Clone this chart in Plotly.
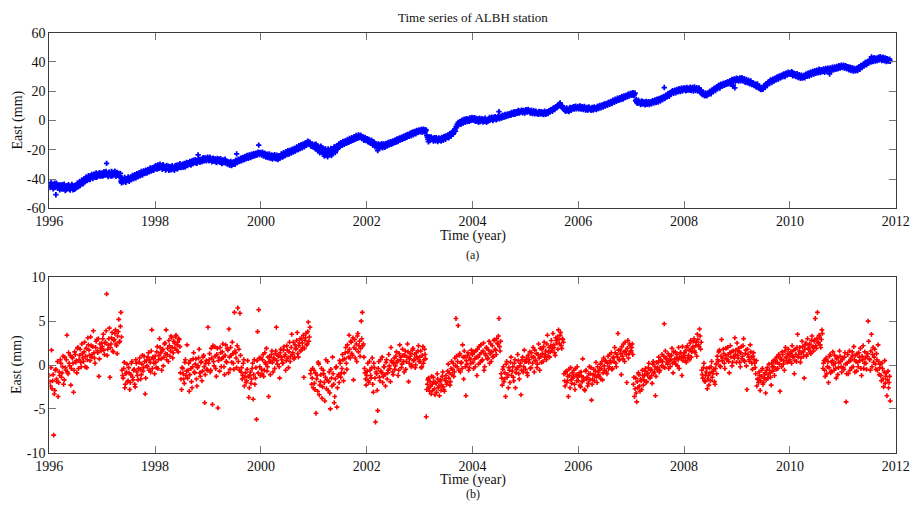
import plotly.graph_objects as go

# ALBH station, east component, 48 samples per year (1996.0 .. 2011.9)
start_year = 1996
samples_per_year = 48

# raw east position (mm), one row per year, whole-step samples
east_raw = [
    [-43.5,-45.2,-42.8,-44.6,-46.0,-43.1,-50.7,-44.9,-45.8,-44.2,-46.3,-45.0,-43.9,-46.8,-45.5,-47.2,-44.6,-46.1,-45.7,-47.5,-46.4,-44.8,-45.9,-47.0,-44.3,-45.6,-43.8,-42.9,-44.4,-42.1,-41.3,-42.8,-40.6,-39.4,-41.0,-39.8,-38.7,-40.1,-37.9,-39.2,-38.3,-36.8,-37.6,-38.9,-36.5,-37.8,-36.2,-37.4],
    [-36.0,-37.5,-35.4,-36.9,-29.3,-37.2,-35.8,-36.6,-38.0,-36.3,-35.5,-37.1,-36.7,-35.9,-37.4,-36.2,-37.8,-41.5,-40.2,-42.0,-40.8,-41.3,-39.7,-40.6,-39.5,-40.1,-38.6,-39.3,-37.9,-38.8,-37.2,-38.1,-36.6,-37.5,-35.8,-36.9,-35.4,-36.2,-34.9,-35.7,-34.3,-35.2,-33.8,-34.6,-33.1,-34.0,-32.7,-33.5],
    [-32.4,-31.2,-33.0,-31.8,-30.6,-32.1,-31.4,-30.2,-32.5,-31.7,-33.2,-32.0,-31.3,-33.5,-32.6,-31.9,-33.1,-32.2,-31.0,-32.8,-31.5,-30.4,-32.0,-30.9,-31.3,-29.8,-30.7,-31.6,-29.5,-30.3,-28.9,-29.9,-28.4,-29.6,-28.0,-27.2,-28.7,-27.5,-29.0,-23.5,-26.8,-28.2,-27.1,-26.3,-27.6,-25.9,-26.9,-26.2],
    [-26.0,-27.3,-25.6,-26.8,-27.5,-26.1,-27.9,-26.6,-28.2,-27.0,-26.4,-28.5,-27.7,-28.9,-27.3,-28.4,-29.1,-27.8,-29.6,-28.7,-30.2,-29.4,-28.5,-29.9,-28.8,-27.6,-22.8,-28.1,-26.9,-27.4,-25.8,-26.7,-25.2,-26.3,-24.6,-25.5,-24.0,-25.1,-23.7,-24.8,-23.3,-24.2,-22.9,-23.8,-23.4,-22.4,-16.8,-22.0],
    [-22.1,-23.4,-22.8,-24.0,-23.2,-24.6,-23.7,-25.1,-24.3,-25.5,-24.8,-23.9,-25.6,-24.5,-26.0,-25.2,-24.4,-25.8,-24.1,-23.3,-24.6,-22.9,-23.8,-22.2,-21.5,-22.7,-21.0,-21.9,-20.4,-21.3,-19.7,-20.8,-19.2,-18.5,-19.6,-18.0,-17.2,-18.4,-16.8,-17.7,-15.9,-17.0,-15.4,-14.6,-15.8,-16.3,-17.5,-16.9],
    [-17.4,-18.6,-16.2,-19.3,-17.8,-20.5,-18.1,-21.2,-19.0,-22.6,-20.3,-23.5,-21.0,-19.4,-22.8,-20.6,-24.0,-19.8,-21.5,-18.3,-20.1,-17.2,-18.8,-16.0,-17.3,-15.5,-16.6,-14.9,-15.8,-14.3,-15.2,-13.6,-14.5,-12.9,-13.8,-12.4,-13.2,-11.8,-12.6,-11.3,-12.0,-10.5,-11.4,-10.9,-12.3,-11.7,-13.0,-12.4],
    [-13.4,-14.2,-12.9,-15.0,-14.1,-15.8,-15.2,-16.5,-15.7,-17.1,-20.6,-17.8,-16.6,-18.2,-17.3,-16.4,-17.6,-16.9,-15.8,-16.7,-15.2,-16.1,-14.7,-15.5,-14.1,-14.8,-13.3,-14.0,-12.6,-13.5,-12.0,-12.8,-11.4,-12.2,-10.8,-11.6,-10.2,-9.5,-10.6,-9.0,-9.8,-8.4,-9.3,-7.9,-8.7,-7.3,-8.2,-7.0],
    [-6.9,-7.6,-6.2,-7.3,-6.5,-7.8,-6.8,-11.4,-14.5,-12.3,-11.6,-13.0,-12.1,-13.4,-12.5,-11.8,-13.2,-12.7,-13.6,-12.4,-11.5,-12.8,-11.2,-12.0,-10.6,-11.3,-9.8,-10.4,-8.9,-9.5,-7.6,-8.3,-5.8,-4.2,-2.6,-1.4,-2.1,-0.6,-1.5,0.2,-0.9,0.6,-0.2,1.1,0.3,-0.5,1.4,0.7],
    [1.2,0.4,1.8,0.6,-0.3,1.0,0.2,-0.8,0.7,-0.4,0.9,-0.6,0.1,-0.9,0.5,1.3,0.3,1.6,0.8,2.0,1.1,1.7,0.9,2.4,6.0,1.8,2.9,2.2,3.3,2.6,3.7,3.0,4.1,3.5,4.6,3.9,5.0,4.4,5.6,4.8,5.3,6.1,5.5,6.4,5.9,6.7,6.2,5.8],
    [6.6,7.0,6.1,6.8,5.7,6.4,5.3,6.0,5.1,5.8,4.7,5.5,4.9,5.9,5.2,4.5,5.6,4.8,5.4,5.0,6.0,5.7,6.6,7.3,6.9,7.9,8.6,8.2,9.5,10.1,9.6,11.3,10.6,9.4,8.5,7.6,7.0,7.8,6.6,7.4,8.2,7.5,8.8,8.0,8.6,9.3,8.4,9.0],
    [9.1,8.4,9.6,8.7,8.1,9.0,8.3,7.6,8.5,7.9,8.8,7.4,8.2,7.7,8.6,7.9,8.3,9.0,8.7,9.6,9.2,10.1,9.7,10.6,10.3,11.2,10.9,11.8,11.5,12.4,12.1,13.0,13.5,12.8,14.1,13.6,14.7,14.2,15.3,14.8,15.8,15.2,16.4,16.0,16.9,17.4,16.7,17.8],
    [18.2,17.5,18.8,17.9,13.4,12.6,11.9,13.1,12.2,11.5,12.8,11.8,12.4,11.3,12.0,11.6,12.6,11.9,12.3,13.0,12.5,13.4,12.9,13.8,13.3,14.4,13.9,15.0,14.6,15.8,22.5,16.5,16.9,17.6,17.2,18.5,18.9,19.6,19.2,20.0,19.7,20.5,20.1,20.9,20.4,21.3,20.8,21.5],
    [21.0,21.8,20.6,21.5,22.1,21.2,20.7,21.9,21.4,22.3,21.0,21.7,20.9,21.5,20.6,19.5,18.6,17.8,18.2,17.3,18.0,17.6,18.7,19.4,19.0,20.1,20.7,21.5,21.1,22.3,22.8,23.4,22.9,24.0,24.4,23.8,25.0,24.6,25.6,25.2,26.1,25.7,26.6,27.3,23.5,27.6,22.3,28.0],
    [27.4,28.3,27.8,28.6,27.9,28.2,27.3,26.8,27.5,26.4,26.9,25.8,26.3,25.2,24.7,25.3,24.1,23.6,24.4,23.0,22.4,21.8,21.3,22.0,22.9,23.6,24.4,25.1,25.8,26.3,27.0,26.6,27.5,28.1,27.7,28.6,29.1,28.8,29.7,30.2,29.9,30.8,31.2,30.7,31.6,32.1,31.5,32.4],
    [32.5,31.8,32.9,31.3,30.7,31.6,30.2,30.9,29.7,30.4,29.3,30.0,29.6,30.5,30.9,31.5,31.0,32.1,31.7,32.6,32.2,33.1,32.7,33.6,33.2,34.0,33.5,34.3,33.1,34.6,34.1,33.7,34.8,34.2,35.0,34.5,31.8,35.4,34.6,35.7,35.2,36.0,35.5,36.3,35.9,36.8,36.3,37.1],
    [36.6,37.3,36.1,36.9,35.7,36.4,35.3,35.9,34.8,35.5,34.2,34.9,34.5,35.4,36.1,35.7,36.8,37.5,37.0,38.3,38.8,39.4,39.0,40.1,40.6,41.2,43.5,40.5,41.6,42.4,41.0,41.9,42.8,41.4,43.6,42.1,41.7,42.6,40.9,41.5,42.2,40.8,41.3,40.5],
]

# raw east position (mm), one row per year, half-step samples
east_raw_half = [
    [-45.8,-42.6,-44.9,-46.7,-43.0,-45.6,-42.9,-46.4,-44.1,-47.3,-44.0,-46.9,-45.1,-43.6,-47.8,-44.7,-46.6,-43.9,-47.1,-45.0,-43.7,-47.4,-44.5,-46.2,-45.9,-42.8,-45.1,-41.6,-43.4,-40.7,-43.2,-39.9,-41.8,-38.5,-40.9,-37.8,-40.3,-38.1,-36.9,-39.6,-36.7,-38.8,-35.9,-38.2,-37.0,-35.6,-38.1,-36.0],
    [-37.9,-35.2,-37.3,-34.8,-36.4,-38.3,-35.1,-37.6,-34.9,-37.8,-36.0,-34.7,-38.2,-35.5,-36.9,-38.4,-36.1,-42.6,-39.4,-41.7,-39.0,-42.3,-40.9,-38.6,-41.5,-39.2,-40.4,-37.6,-39.9,-37.0,-39.4,-36.4,-38.5,-35.9,-37.8,-34.9,-37.3,-34.5,-36.3,-33.9,-35.9,-33.4,-35.1,-32.5,-34.6,-32.2,-34.1,-31.8],
    [-30.9,-33.1,-30.4,-32.6,-29.8,-31.0,-33.3,-30.6,-31.5,-33.9,-30.8,-32.8,-34.1,-31.6,-33.7,-30.9,-32.4,-34.0,-31.3,-30.6,-33.0,-31.8,-29.6,-32.2,-30.2,-31.9,-29.3,-31.4,-28.7,-30.8,-29.6,-27.9,-30.4,-27.6,-29.4,-28.6,-26.8,-29.2,-27.7,-26.1,-28.5,-26.6,-28.0,-25.4,-27.3,-25.6,-27.6,-25.1],
    [-27.4,-25.1,-26.9,-28.3,-25.7,-27.6,-26.2,-28.7,-25.9,-28.0,-27.3,-26.1,-29.4,-27.0,-28.8,-26.5,-27.9,-29.8,-28.3,-30.4,-28.0,-30.8,-29.1,-28.3,-30.0,-27.1,-28.7,-26.4,-28.0,-25.9,-27.6,-25.4,-26.9,-24.8,-26.1,-23.9,-25.8,-23.5,-25.3,-23.0,-24.6,-22.7,-24.1,-22.3,-23.6,-21.7,-23.3,-21.9],
    [-23.5,-21.6,-24.3,-22.3,-25.0,-23.0,-25.4,-22.8,-25.9,-23.6,-26.3,-24.2,-23.4,-26.2,-23.7,-26.7,-24.0,-25.3,-22.8,-24.9,-22.0,-24.1,-21.4,-23.3,-20.7,-22.9,-20.3,-22.2,-19.6,-21.6,-18.9,-20.6,-18.1,-20.0,-17.3,-19.2,-16.6,-18.7,-16.0,-17.9,-15.2,-16.7,-14.1,-15.9,-14.9,-17.6,-16.0,-18.1],
    [-16.3,-19.4,-17.0,-20.6,-18.7,-22.1,-17.5,-21.8,-20.0,-24.3,-19.2,-22.3,-24.8,-20.7,-23.1,-19.1,-22.5,-20.4,-18.0,-21.9,-17.7,-19.6,-16.4,-17.8,-15.1,-16.9,-14.4,-16.2,-13.9,-15.6,-13.0,-14.9,-12.3,-14.1,-11.8,-13.5,-11.1,-12.9,-10.2,-12.2,-9.9,-11.6,-10.1,-12.0,-11.0,-13.6,-11.5,-13.7],
    [-12.4,-14.8,-13.6,-15.6,-13.5,-16.8,-14.6,-17.9,-16.3,-18.6,-16.0,-18.9,-17.2,-15.9,-18.7,-16.0,-18.3,-15.6,-17.4,-15.0,-16.8,-14.5,-16.3,-14.2,-15.4,-13.6,-14.9,-12.8,-14.4,-12.3,-13.4,-11.6,-12.9,-10.9,-12.1,-10.3,-11.4,-9.9,-10.8,-8.7,-10.4,-8.0,-9.7,-7.5,-9.1,-6.8,-8.0,-6.4],
    [-7.8,-6.1,-8.1,-5.9,-7.4,-6.3,-10.2,-12.9,-11.0,-13.7,-11.3,-12.6,-14.0,-11.7,-13.9,-12.2,-14.3,-11.9,-13.1,-14.1,-12.0,-13.5,-10.9,-12.8,-11.1,-10.1,-11.9,-9.1,-10.7,-8.4,-9.3,-6.8,-7.2,-4.9,-3.4,-2.4,-0.9,-2.6,0.1,-1.7,0.9,-1.2,1.3,-0.7,0.9,1.8,0.0,2.1],
    [0.3,1.9,-0.5,1.4,0.6,-1.3,1.5,-0.2,1.3,-1.0,0.3,1.5,-1.1,0.8,-0.4,2.0,0.6,2.3,-0.1,1.4,2.6,0.5,2.0,3.0,1.2,2.8,1.6,3.6,2.3,4.1,2.7,4.3,3.2,4.9,3.6,5.5,4.2,5.8,4.3,6.0,4.9,6.8,5.1,6.0,7.1,5.3,6.9,5.1],
    [7.4,5.8,7.5,6.3,5.1,7.0,4.8,6.7,4.5,6.3,5.4,4.2,6.2,4.4,6.0,5.2,4.1,6.3,4.3,5.8,4.8,6.7,5.9,7.6,6.3,8.5,7.4,9.3,8.8,10.6,10.4,12.0,9.9,10.0,8.0,8.4,6.3,8.5,7.0,6.1,8.9,7.0,8.2,9.4,7.8,9.8,8.0,9.6],
    [8.0,9.9,7.8,9.4,7.5,9.6,7.2,8.9,7.0,9.3,8.1,6.9,8.9,7.1,9.2,8.6,7.4,9.7,8.1,10.2,8.6,10.7,9.2,11.3,9.8,11.7,10.4,12.5,11.0,13.1,11.5,13.8,12.6,14.5,13.1,15.3,13.8,15.6,14.4,16.4,14.6,16.8,15.6,17.3,16.2,18.1,17.1,18.6],
    [17.2,19.0,17.0,18.7,14.2,11.8,13.8,12.4,10.9,13.4,11.2,12.6,10.7,13.0,11.0,12.8,10.9,12.7,11.4,13.6,11.9,14.1,12.2,14.5,12.6,15.1,13.3,15.8,14.1,16.5,15.0,17.3,16.2,18.4,16.5,19.2,18.2,20.3,18.6,20.7,18.9,21.2,19.6,21.8,19.8,22.1,20.2,22.3],
    [22.2,20.3,22.6,20.8,21.0,22.8,20.4,22.5,20.2,22.9,20.5,22.4,20.1,22.2,19.8,20.7,17.7,19.1,16.9,18.9,16.8,18.5,18.0,20.0,18.3,20.9,19.7,22.0,20.4,23.0,21.8,24.1,22.2,24.8,23.5,25.3,24.0,25.9,24.7,26.6,25.1,27.0,25.9,28.1,24.2,28.4,26.5,28.9],
    [28.5,26.9,29.0,27.2,29.2,27.1,28.5,26.1,28.0,25.8,27.6,25.1,27.0,24.6,25.6,23.8,25.0,22.9,24.9,22.3,23.4,21.1,22.5,21.4,23.6,22.5,25.1,24.0,26.4,25.2,27.7,25.9,28.2,27.0,28.9,27.8,29.8,28.1,30.4,29.1,30.9,29.8,31.8,30.1,32.4,31.0,33.0,31.7],
    [31.5,33.3,30.6,32.4,31.8,30.1,31.9,29.4,31.3,28.9,31.0,29.0,30.8,29.1,31.6,30.2,32.4,30.4,33.0,31.1,33.5,31.6,34.0,32.3,34.3,32.6,35.0,32.8,34.8,33.4,35.2,33.0,35.6,33.5,35.8,33.8,35.9,34.1,36.4,34.4,36.6,35.0,37.0,35.3,37.4,35.8,37.8,36.2],
    [37.8,35.9,37.4,35.4,36.8,34.6,36.5,34.1,36.0,33.8,35.6,33.9,35.7,34.1,36.6,35.0,37.7,36.3,38.3,37.4,39.8,38.1,40.4,39.2,41.5,39.9,42.5,40.2,43.0,40.6,42.5,40.9,43.3,41.6,42.9,40.9,43.2,41.0,42.8,40.3,42.1,40.6,41.9],
]

# residual east (mm), one row per year, whole-step samples
east_resid = [
    [-1.2,-2.4,1.7,-1.8,-8.0,-2.9,-0.5,-1.9,-3.6,-0.8,0.6,-1.4,-0.2,-2.2,0.9,-0.6,3.4,-1.0,0.2,1.1,-0.4,0.8,-3.1,1.5,0.3,-0.9,2.0,0.6,1.8,-0.2,1.3,0.4,2.6,1.0,-0.3,3.1,1.7,0.5,2.2,1.2,3.9,0.8,2.0,2.9,1.4,-1.3,2.4,1.6],
    [2.1,3.5,1.2,2.6,8.1,1.8,3.0,-1.4,2.4,3.7,1.5,2.9,4.0,2.2,3.3,5.2,2.7,6.0,-0.6,-1.5,0.3,-2.2,-0.8,-1.9,-0.3,-2.8,-1.1,0.4,-1.7,-0.5,-2.5,0.2,-1.2,-0.4,0.8,-1.6,0.1,-0.7,1.0,-3.3,0.5,-0.2,1.4,0.6,-0.8,4.0,0.9,0.2],
    [1.0,-0.3,2.1,0.6,3.0,1.4,-0.6,1.8,0.9,2.5,4.0,1.2,0.4,2.2,1.6,3.1,0.8,2.7,1.9,3.4,2.3,1.5,2.9,-0.9,-2.8,-0.4,-1.6,0.3,-1.2,2.3,-0.6,-3.0,0.5,-1.9,-0.2,1.4,-0.9,0.7,-2.4,-0.1,1.8,-1.3,0.4,-0.7,1.1,-4.3,0.2,-0.5],
    [4.3,0.6,-0.8,1.9,-4.5,0.4,2.1,-0.4,1.2,-4.9,0.8,2.0,-0.2,1.5,0.9,-1.1,2.3,0.3,1.7,4.1,-0.5,1.1,2.6,0.2,6.0,1.4,-0.3,6.5,1.8,5.9,-0.8,-1.6,0.2,-2.4,-0.9,-1.8,0.5,-3.7,-1.2,-2.1,-0.4,-3.9,0.6,-1.5,-6.2,3.8,6.3,-0.2],
    [0.8,-1.0,1.2,-0.6,0.3,1.9,-0.2,-3.6,0.9,0.4,1.6,-0.8,0.7,1.3,4.3,0.1,1.0,-1.5,1.8,0.6,0.2,2.1,1.2,0.5,1.7,-0.3,2.6,1.0,3.5,1.4,0.7,2.3,1.9,3.7,0.9,2.5,1.6,3.0,2.0,-1.4,2.8,3.6,2.4,4.9,3.2,-1.0,-2.2,-0.4],
    [-0.6,-2.8,-5.5,-1.2,0.3,-3.4,-1.9,-0.4,-2.5,-1.0,-4.1,0.6,-1.7,-2.9,-0.8,-5.0,-1.5,0.9,-2.2,-3.6,-0.3,-4.8,-1.3,-2.0,0.2,-0.9,1.2,-1.8,0.7,2.0,-0.5,1.5,3.4,0.8,2.6,1.1,-1.7,2.9,1.8,0.4,3.6,2.2,1.0,5.0,6.0,2.4,-0.4,-1.6],
    [-1.2,0.2,-2.0,-0.6,-1.5,0.8,-3.1,-0.3,-6.5,-1.0,-5.2,0.4,-1.8,-0.7,0.9,-1.3,-0.2,-2.4,0.6,-0.9,1.2,-0.4,2.0,0.3,-1.1,0.8,-0.1,1.5,0.5,-0.6,2.3,0.9,0.1,1.1,-0.8,1.6,0.4,2.4,-1.9,0.7,1.3,0.0,1.9,0.6,-0.3,1.4,0.8,2.2],
    [0.9,1.6,-0.2,2.1,0.6,1.2,-5.9,-2.2,-1.5,-3.0,-2.4,-1.3,-2.9,-1.9,-3.4,-2.1,-1.0,-2.6,-3.5,-1.7,-2.3,-0.8,-2.8,-1.6,-1.2,-2.0,0.1,-0.9,-1.9,0.4,-0.5,-1.3,0.8,5.3,-0.2,4.5,1.1,-0.8,0.3,2.3,-1.6,0.9,-3.5,0.1,1.4,-0.3,0.6,1.7],
    [1.2,-0.4,0.7,1.6,-1.2,0.9,2.1,0.3,1.4,0.6,2.5,-0.2,1.1,1.9,0.8,2.7,1.3,0.4,2.2,1.0,2.9,1.7,3.0,2.4,5.3,1.6,-1.0,-2.3,-0.2,-1.6,-3.6,0.4,-1.1,-0.3,-2.0,0.9,-0.7,-1.4,0.2,-2.6,-0.5,1.2,-1.0,-0.1,-3.4,0.6,-0.8,1.7],
    [-0.5,0.8,-1.2,0.3,1.5,-0.3,0.9,2.0,-0.8,0.5,1.3,0.1,2.4,-0.6,1.0,1.8,0.4,2.6,1.2,0.6,3.4,1.5,0.9,2.2,1.6,3.6,2.0,1.1,2.8,3.2,4.0,2.4,3.7,1.9,2.9,-1.0,-2.4,-0.7,-1.8,-3.6,-1.2,-0.3,-2.1,-1.5,-0.6,-2.8,-1.1,-0.2],
    [-1.8,-0.9,-2.5,-1.3,0.7,-1.7,-2.9,-0.6,-1.4,-2.1,-0.2,-1.0,-4.0,-1.6,-0.5,-1.2,0.3,-2.0,-0.8,-1.3,0.1,-0.4,-1.7,0.8,-0.6,0.4,-1.0,1.0,-0.2,0.5,1.4,-0.4,0.9,2.0,0.2,1.2,3.6,0.6,1.7,-1.1,1.0,2.4,0.4,1.6,-2.0,2.8,1.3,2.2],
    [1.6,2.4,-2.2,-3.6,-1.5,-4.2,-2.6,-1.1,-3.0,-1.8,-0.6,-2.3,-1.2,-0.4,-1.9,-0.9,0.2,-1.5,-0.5,-2.1,0.4,-0.8,-3.5,0.3,-0.3,0.9,-0.6,0.5,1.2,-0.2,4.7,1.6,0.7,0.1,-0.4,1.0,0.6,1.9,-0.9,0.4,1.5,0.8,-0.1,2.0,0.9,1.4,-1.2,0.5],
    [0.9,1.6,0.3,2.2,1.1,0.6,2.8,1.5,2.1,3.0,1.4,2.6,3.5,2.3,4.1,1.8,-0.6,-1.5,0.2,-1.9,-0.8,-2.7,-1.2,-0.3,-1.8,0.4,-1.0,-0.5,-2.2,0.1,1.0,0.4,1.7,-0.2,2.9,0.8,1.3,-0.4,1.9,0.6,1.2,-0.9,2.2,1.5,0.3,1.0,3.1,1.7],
    [2.5,0.8,1.5,-0.2,2.1,1.0,3.0,0.4,1.7,-2.8,1.2,0.6,2.3,0.9,-0.5,1.4,0.2,-1.0,-2.4,-1.6,-0.8,-2.9,-1.3,-0.4,-2.0,-1.1,-3.2,-0.6,-1.5,0.1,-0.9,-2.3,-0.2,0.5,-1.2,0.3,0.9,-0.4,1.2,-3.0,0.6,1.5,0.1,-0.6,2.0,0.8,1.3,0.4],
    [0.6,1.5,2.2,0.9,-1.0,1.8,0.4,3.5,1.2,2.0,0.8,2.7,1.5,-1.5,2.3,1.0,3.0,1.8,2.4,1.3,3.3,2.1,2.7,5.3,1.9,6.0,2.5,3.2,2.0,4.0,-0.4,0.5,-1.3,0.8,-0.2,-2.0,1.0,-0.9,0.3,1.5,-0.6,0.2,-1.5,0.9,-0.3,1.6,0.4,-0.8],
    [0.8,-0.5,1.4,-4.2,0.2,-1.0,1.6,0.5,-0.3,1.1,2.1,-0.8,0.4,1.3,-0.2,0.9,1.9,-1.2,0.6,-0.4,1.5,0.2,1.0,5.0,0.7,-0.6,3.5,1.2,0.3,1.8,-0.5,0.6,2.3,-1.1,0.1,-1.8,-0.4,-2.5,0.5,-1.3,-3.5,-0.7,-2.0,-4.1],
]

# residual east (mm), one row per year, half-step samples
east_resid_half = [
    [-1.9,-0.3,-2.7,-1.1,-3.3,-0.6,-1.6,0.4,-2.0,-1.2,0.2,-0.9,1.0,-1.7,-0.3,0.6,-0.8,1.4,-0.1,-2.3,0.9,0.2,-0.6,1.2,0.5,1.9,-0.4,1.1,0.3,2.4,0.8,1.5,-0.2,1.9,0.6,2.3,1.1,3.2,0.9,2.1,1.4,0.2,2.7,1.6,3.0,0.7,1.9,2.5],
    [3.0,1.7,2.5,3.9,1.1,2.3,4.2,2.0,3.1,1.6,2.8,3.6,2.4,1.3,3.8,2.6,4.4,3.2,-1.2,-0.4,-2.6,-1.0,0.1,-1.8,-0.9,-2.0,0.2,-1.4,-0.6,-2.2,0.6,-0.8,-1.7,0.3,-0.5,-1.1,1.1,-0.3,0.4,-1.5,-0.1,0.9,-0.6,0.3,1.6,-0.4,0.7,-1.0],
    [0.3,1.5,-0.4,1.1,2.0,0.7,1.6,-0.1,2.4,1.3,0.6,1.9,2.8,1.0,3.3,2.0,1.4,2.5,3.2,1.7,2.6,3.0,2.1,-1.6,-0.3,-1.0,-2.1,0.6,-0.7,-1.5,0.2,-1.1,-0.4,-2.6,0.7,-0.8,0.1,-1.6,-0.3,0.8,-0.9,0.3,-1.8,0.9,-0.2,-1.1,0.5,-0.6],
    [0.2,1.3,-0.6,0.8,2.2,-0.1,1.0,-1.3,1.9,0.5,-0.7,1.4,0.7,2.4,-0.2,1.1,0.4,1.9,-0.9,0.9,2.0,0.3,1.3,-0.5,1.6,0.8,2.2,0.4,-0.6,1.1,-0.3,-1.2,0.6,-1.4,-2.0,-0.5,-1.3,-2.6,-0.8,-1.6,0.2,-1.1,-2.2,-0.3,0.5,-0.9,0.8,-1.2],
    [-0.5,0.6,-1.3,1.4,0.1,-0.7,0.9,0.4,-1.1,1.2,0.3,0.8,-0.4,1.6,0.5,1.1,-0.2,1.4,0.9,0.2,1.7,1.0,-0.6,2.2,0.8,1.5,0.4,2.0,1.2,2.6,0.9,1.8,2.8,1.3,2.2,3.0,1.7,2.5,3.4,1.9,3.1,2.3,3.8,2.7,4.3,-0.6,-1.5,-2.6],
    [-2.1,-0.9,-1.6,-3.0,0.1,-2.3,-1.1,-3.8,-0.6,-2.0,-1.4,-2.7,0.4,-1.9,-3.2,-0.5,-2.4,-1.0,-4.3,-1.6,-0.2,-2.6,-1.1,0.5,-1.4,-0.4,0.6,-0.9,1.4,0.2,2.3,0.9,1.8,2.7,1.3,3.1,2.0,0.8,2.4,3.3,1.5,2.7,1.9,3.0,2.2,0.9,-0.9,-2.3],
    [-0.7,-1.8,0.4,-1.2,-0.3,-2.2,0.2,-1.5,-0.8,-2.9,-0.4,-1.4,0.6,-0.9,-2.0,-0.2,-1.1,0.3,-1.6,-0.6,-0.1,-1.9,0.5,-0.8,0.2,-0.5,1.0,0.3,-1.2,1.3,0.6,-0.3,1.8,0.4,1.1,-0.5,0.9,1.5,0.2,1.0,-0.2,1.7,0.5,1.2,0.0,0.9,1.6,0.4],
    [0.4,-0.3,1.1,0.2,1.8,0.7,-2.8,-1.7,-2.6,-1.9,-3.3,-2.2,-1.4,-2.7,-2.0,-3.1,-1.6,-2.4,-1.9,-2.9,-1.3,-2.5,-3.0,-1.8,-2.2,-0.7,-1.5,-2.3,-0.4,-1.1,0.2,-0.8,-0.1,1.0,0.4,-0.6,1.3,0.2,-0.4,0.9,1.6,-0.2,0.5,1.1,-0.6,0.8,0.2,1.3],
    [0.3,1.5,-0.2,0.9,1.8,0.1,1.2,2.3,0.5,1.6,-0.6,1.3,2.0,0.7,1.7,0.2,2.4,1.5,0.9,2.8,1.8,1.2,2.5,3.3,2.1,2.7,-1.5,-0.5,-1.9,-0.9,0.1,-1.4,-2.6,-0.6,0.3,-1.2,-0.2,-1.8,0.6,-0.9,-0.3,0.5,-1.6,0.2,-0.6,0.9,-0.2,0.4],
    [0.4,-0.9,1.1,0.6,-0.4,1.4,0.2,0.9,1.7,0.5,-0.3,1.2,0.8,1.9,0.3,1.3,2.1,0.9,1.6,2.4,1.0,2.0,1.5,2.8,1.9,2.3,1.4,3.1,2.5,1.8,2.9,3.4,2.2,3.0,2.6,-1.8,-0.9,-2.0,-1.3,-0.5,-2.6,-1.7,-0.9,-1.3,-2.2,-0.4,-1.8,-1.4],
    [-1.2,-2.3,-0.8,-1.9,-1.4,-2.8,-0.7,-1.6,-2.4,-1.0,-1.7,-0.3,-2.2,-1.1,-1.8,-0.7,-1.4,-0.2,-1.1,-0.5,-1.6,0.4,-0.9,-0.1,0.5,-0.8,0.2,-0.4,1.2,0.3,-0.5,0.8,0.4,1.4,-0.2,0.9,1.7,0.6,1.3,2.1,0.7,1.5,2.6,1.2,1.9,0.8,2.4,1.6],
    [2.0,1.2,-1.4,-2.7,-3.2,-1.9,-0.9,-2.4,-1.6,-2.8,-1.2,-1.7,-0.7,-2.0,-1.1,-0.3,-1.4,-0.6,-1.2,0.1,-0.9,-0.2,-1.3,-0.5,0.3,-0.8,0.6,-0.1,0.4,1.0,-0.3,0.8,0.3,1.3,0.5,-0.2,1.1,0.2,1.5,0.7,0.1,1.2,0.6,-0.4,1.4,0.8,2.1,1.1],
    [1.4,0.5,2.0,0.8,1.7,2.5,0.9,1.9,2.7,1.6,2.2,1.0,2.9,2.1,3.3,2.6,-1.1,-0.3,-1.8,-1.2,-0.4,-1.6,-2.3,-0.9,-0.2,-1.4,-0.7,-1.9,-0.4,-1.0,0.6,1.5,-0.1,1.0,0.5,1.8,0.2,1.1,0.7,2.0,0.4,1.4,0.9,-0.1,1.6,0.8,1.2,0.3],
    [1.1,1.9,0.3,1.4,0.7,2.2,0.5,1.3,-0.1,1.8,0.9,0.4,1.5,0.2,1.0,0.6,-0.3,0.5,-1.6,-2.0,-1.2,-1.8,-0.6,-2.2,-1.5,-0.9,-1.7,-0.3,-1.1,-0.6,-1.4,0.2,-0.7,-0.2,0.6,-0.5,0.3,1.0,0.1,0.8,-0.2,1.2,0.5,1.6,0.9,0.3,1.8,1.1],
    [1.3,0.2,1.0,1.7,0.5,1.2,2.0,0.9,1.6,0.3,1.4,2.1,1.0,1.8,2.5,1.2,1.9,2.3,1.5,2.8,2.0,1.6,2.9,2.2,3.0,2.6,3.4,2.3,2.9,3.6,0.2,-0.6,0.6,-1.0,0.4,-0.3,1.2,-0.7,0.5,0.0,1.1,-0.4,0.7,-1.1,0.3,1.0,-0.2,0.6],
    [-0.3,0.9,0.1,-1.0,1.2,0.4,-0.6,0.8,1.5,-0.2,0.6,1.1,-0.7,0.3,1.4,0.5,-0.4,1.0,2.2,0.2,0.8,-0.5,1.3,2.7,0.6,1.6,-0.2,2.0,0.9,0.1,1.3,-0.6,0.4,-0.3,-1.2,0.2,-1.6,-0.8,-2.1,-0.9,-1.7,-2.6,-1.3],
]

x_ticks = [1996, 1998, 2000, 2002, 2004, 2006, 2008, 2010, 2012]
top_ticks = [-60, -40, -20, 0, 20, 40, 60]
bottom_ticks = [-10, -5, 0, 5, 10]


def flatten(rows, offset=0.0):
    times, values = [], []
    for k, row in enumerate(rows):
        for i, v in enumerate(row):
            times.append(start_year + k + (i + offset) / samples_per_year)
            values.append(v)
    return times, values


def merge(whole_rows, half_rows):
    t1, v1 = flatten(whole_rows)
    t2, v2 = flatten(half_rows, 0.5)
    return t1 + t2, v1 + v2


t_raw, v_raw = merge(east_raw, east_raw_half)
t_res, v_res = merge(east_resid, east_resid_half)

W, H = 911, 505
left, right = 49.3, 895.7
top_a, bot_a = 32.7, 208.3
top_b, bot_b = 277.3, 452.7

FONT = "Liberation Serif"
AXIS_COLOR = "#3a3a3a"

fig = go.Figure()
fig.add_trace(go.Scatter(
    x=t_raw, y=v_raw, mode="markers", xaxis="x", yaxis="y",
    marker=dict(symbol="cross", size=4.5, color="#0000ff", line=dict(width=0)),
    showlegend=False, hoverinfo="skip",
))
fig.add_trace(go.Scatter(
    x=t_res, y=v_res, mode="markers", xaxis="x2", yaxis="y2",
    marker=dict(symbol="cross", size=4, color="#ff0000", line=dict(width=0)),
    showlegend=False, hoverinfo="skip",
))


def xaxis_style(anchor):
    return dict(
        domain=[left / W, right / W], range=[1996, 2012], anchor=anchor,
        tickvals=x_ticks, ticktext=[str(v) for v in x_ticks],
        ticks="inside", ticklen=7, tickcolor="#777", tickwidth=1,
        showline=True, linecolor=AXIS_COLOR, linewidth=1, mirror="ticks",
        showgrid=False, zeroline=False, automargin=False,
        tickfont=dict(family=FONT, size=14, color="#111"),
    )


def yaxis_style(anchor, rng, ticks, y0, y1):
    return dict(
        domain=[1 - y1 / H, 1 - y0 / H], range=rng, anchor=anchor,
        tickvals=ticks, ticktext=[str(v) for v in ticks],
        ticks="inside", ticklen=7, tickcolor="#777", tickwidth=1,
        showline=True, linecolor=AXIS_COLOR, linewidth=1, mirror="ticks",
        showgrid=False, zeroline=False, automargin=False,
        tickfont=dict(family=FONT, size=14, color="#111"),
    )


fig.update_layout(
    width=W, height=H,
    margin=dict(l=0, r=0, t=0, b=0, autoexpand=False),
    paper_bgcolor="white", plot_bgcolor="white",
    xaxis=xaxis_style("y"),
    yaxis=yaxis_style("x", [-60, 60], top_ticks, top_a, bot_a),
    xaxis2=xaxis_style("y2"),
    yaxis2=yaxis_style("x2", [-10, 10], bottom_ticks, top_b, bot_b),
)


def label(text, px, py, size=13, angle=0):
    fig.add_annotation(
        text=text, x=px / W, y=1 - py / H, xref="paper", yref="paper",
        showarrow=False, textangle=angle, xanchor="center", yanchor="middle",
        font=dict(family=FONT, size=size, color="#111"),
    )


label("Time series of ALBH station", 472.5, 17, size=13)
label("East (mm)", 17, 120.5, size=14, angle=-90)
label("Time (year)", 472.5, 236, size=14)
label("(a)", 472.5, 255, size=12)
label("East (mm)", 17, 365, size=14, angle=-90)
label("Time (year)", 472.5, 480, size=14)
label("(b)", 472.5, 494, size=12)

fig.write_html("out.html")
